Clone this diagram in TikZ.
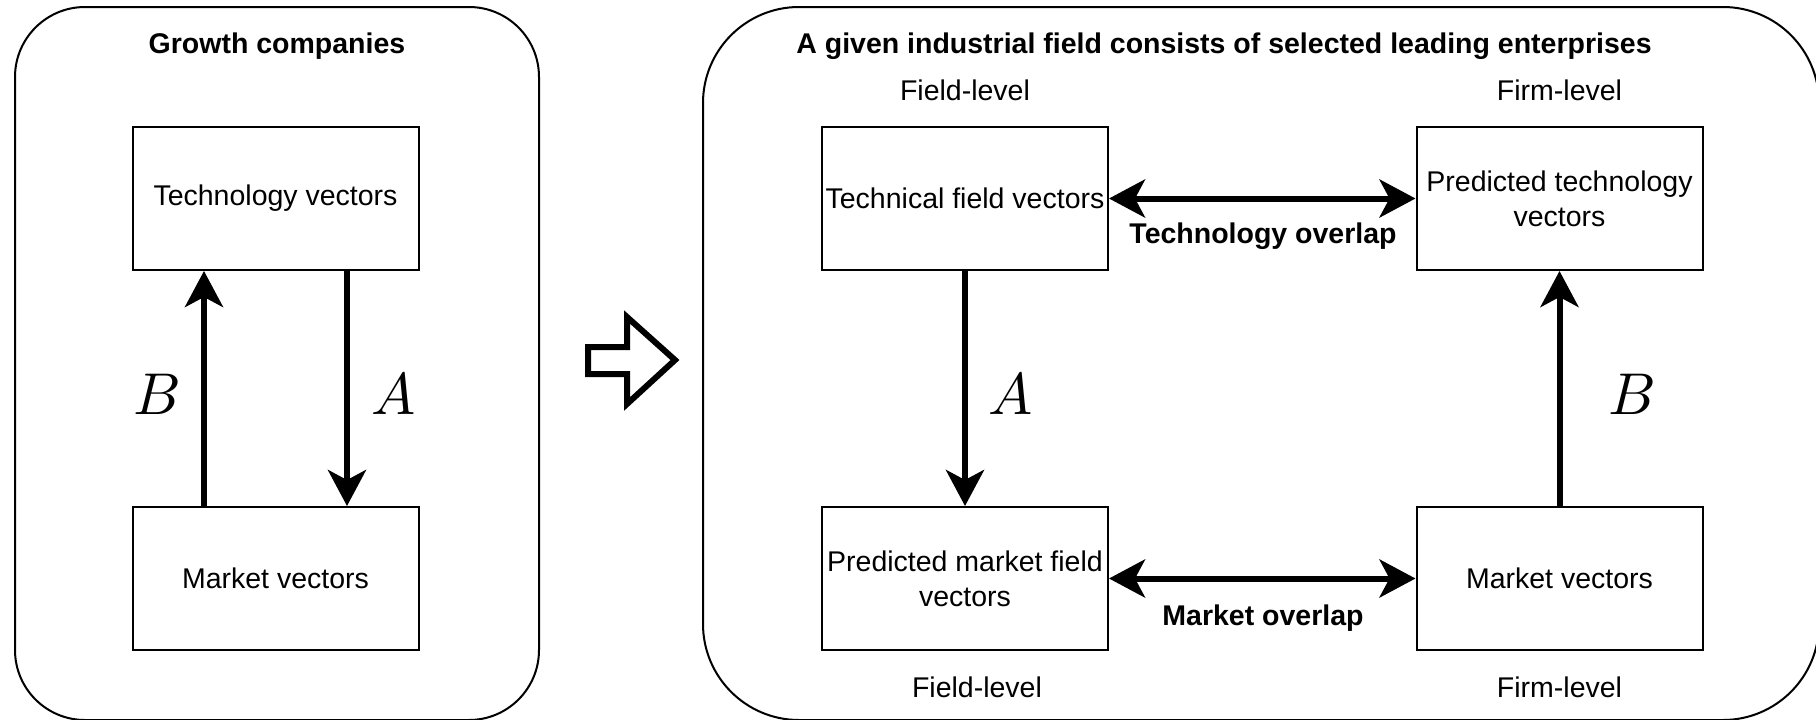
\documentclass[tikz,border=0pt]{standalone}
\usepackage{fontspec}
\setmainfont{Liberation Sans}
\newfontfamily\lmmathfont{Latin Modern Math}
\usetikzlibrary{arrows.meta}
\tikzset{
  frame/.style={draw, line width=2pt},
  vbox/.style={draw, line width=2pt, minimum width=286pt, minimum height=143pt, inner sep=0pt, align=center,
    font=\fontsize{28.5}{35}\selectfont},
  lbl/.style={inner sep=0pt, font=\fontsize{28.5}{35}\selectfont},
  ttl/.style={inner sep=0pt, font=\fontsize{28.5}{34}\selectfont\bfseries},
  mlbl/.style={inner sep=0pt, anchor=base, font=\lmmathfont\fontsize{59}{62}\selectfont},
  tip/.tip={Stealth[length=36pt,width=38pt,inset=10pt]},
  arr/.style={line width=6pt, -tip},
  darr/.style={line width=6pt, tip-tip},
}
\begin{document}
\begin{tikzpicture}[x=1pt,y=-1pt]
\useasboundingbox (0,0) rectangle (1816,720);
% outer frames
\draw[frame, rounded corners=70pt] (15,7) rectangle (539,720);
\draw[frame, rounded corners=96pt] (703,7) rectangle (1819,720);
\node[ttl] (tl) at (277,46) {Growth companies};
\node[ttl] (tr) at (1224,46) {A given industrial field consists of selected leading enterprises};
% left boxes
\node[vbox] (t1) at (275.5,198.5) {Technology vectors};
\node[vbox] (m1) at (275.5,578.5) {Market vectors};
\draw[arr] ([xshift=-71.5pt]m1.north) -- ([xshift=-71.5pt]t1.south);
\draw[arr] ([xshift=71.5pt]t1.south) -- ([xshift=71.5pt]m1.north);
\node[mlbl] (lB) at (156,414) {𝐵};
\node[mlbl] (lA) at (394,414) {𝐴};
% hollow arrow
\draw[line width=6pt, miter limit=10] (588,347) -- (627,347) -- (627,317) -- (675,360) -- (627,404) -- (627,374) -- (588,374) -- cycle;
% right boxes
\node[vbox] (tf) at (965,198.5) {Technical field vectors};
\node[vbox] (pt) at (1559.5,198.5) {Predicted technology\\vectors};
\node[vbox] (pm) at (965,578.5) {Predicted market field\\vectors};
\node[vbox] (mv) at (1559.5,578.5) {Market vectors};
\node[lbl] (fl1) at (965,90) {Field-level};
\node[lbl] (fm1) at (1559.5,90) {Firm-level};
\node[lbl] (fl2) at (977,687) {Field-level};
\node[lbl] (fm2) at (1559.5,687) {Firm-level};
\draw[darr] (tf.east) -- (pt.west);
\draw[darr] (pm.east) -- (mv.west);
\node[ttl] (to) at (1263,236) {Technology overlap};
\node[ttl] (mo) at (1263,618) {Market overlap};
\draw[arr] (tf.south) -- (pm.north);
\draw[arr] (mv.north) -- (pt.south);
\node[mlbl] (rA) at (1011,414) {𝐴};
\node[mlbl] (rB) at (1631,414) {𝐵};
\end{tikzpicture}
\end{document}
